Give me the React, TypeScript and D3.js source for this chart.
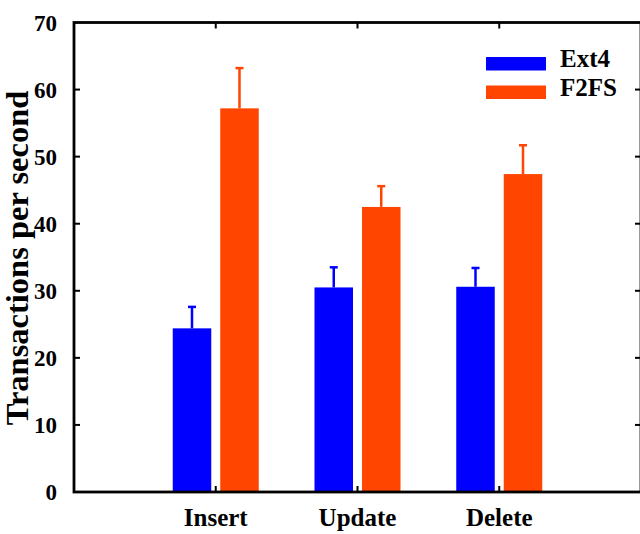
import React from "react"
import {scaleLinear, scaleBand} from "d3"

const categories = ["Insert", "Update", "Delete"]
const series = ["Ext4", "F2FS"]
const ext4Values = [24.4, 30.5, 30.6]
const f2fsValues = [57.2, 42.5, 47.4]
const ext4Errors = [3.2, 3.0, 2.8]
const f2fsErrors = [6.0, 3.1, 4.3]
const yTicks = [0, 10, 20, 30, 40, 50, 60, 70]

const colors = {Ext4: "#0000ff", F2FS: "#ff4500"}

const W = 640
const H = 534
const left = 74
const right = 641
const top = 22.5
const bottom = 492

// serif bold text
const txt = (size: number) => ({fontFamily: "Liberation Serif", fontWeight: "bold", fontSize: size})

function App() {
  const x = scaleLinear().domain([0, categories.length + 1]).range([left, right])
  const y = scaleLinear().domain([0, 70]).range([bottom, top])
  const inner = scaleBand().domain(series).range([-43, 43]).paddingInner(0.1895)

  const values = {Ext4: ext4Values, F2FS: f2fsValues}
  const errors = {Ext4: ext4Errors, F2FS: f2fsErrors}

  return (
    <svg width={W} height={H} style={{position: "fixed", left: 0, top: 0, background: "#fff"}}>
      {/* bars + error bars */}
      {categories.map((cat, i) => {
        const cx = x(i + 1)
        return series.map(s => {
          const v = values[s][i]
          const e = errors[s][i]
          const bx = cx + inner(s)
          const bw = inner.bandwidth()
          const mid = bx + bw / 2
          return (
            <g key={cat + s}>
              <line x1={mid} x2={mid} y1={y(v)} y2={y(v + e)} stroke={colors[s]} strokeWidth={2.5}/>
              <line x1={mid - 4} x2={mid + 4} y1={y(v + e)} y2={y(v + e)} stroke={colors[s]} strokeWidth={2.5}/>
              <rect x={bx} y={y(v)} width={bw} height={y(0) - y(v)} fill={colors[s]}/>
            </g>
          )
        })
      })}

      {/* frame */}
      <rect x={left} y={top} width={right - left} height={bottom - top} fill="none" stroke="#000" strokeWidth={2.8}/>

      {/* y ticks left and right */}
      {yTicks.map(t => (
        <g key={t}>
          {t > 0 && t < 70 && <line x1={left} x2={left + 6} y1={y(t)} y2={y(t)} stroke="#000" strokeWidth={2}/>}
          {t > 0 && t < 70 && <line x1={right - 6} x2={right} y1={y(t)} y2={y(t)} stroke="#000" strokeWidth={2}/>}
          <text x={57} y={y(t)} dy="0.35em" textAnchor="end" style={txt(23)}>{t}</text>
        </g>
      ))}

      {/* x ticks top and bottom */}
      {categories.map((cat, i) => (
        <g key={cat}>
          <line x1={x(i + 1)} x2={x(i + 1)} y1={bottom} y2={bottom - 6} stroke="#000" strokeWidth={2}/>
          <line x1={x(i + 1)} x2={x(i + 1)} y1={top} y2={top + 6} stroke="#000" strokeWidth={2}/>
          <text x={x(i + 1)} y={526} textAnchor="middle" style={txt(25)}>{cat}</text>
        </g>
      ))}

      {/* y label */}
      <text transform={`translate(28,258) rotate(-90)`} textAnchor="middle" style={txt(32.5)}>
        Transactions per second
      </text>

      {/* legend */}
      {series.map((s, i) => (
        <g key={s}>
          <rect x={486} y={57 + i * 28.5} width={60} height={13.5} fill={colors[s]}/>
          <text x={560} y={67 + i * 29} style={txt(25)}>{s}</text>
        </g>
      ))}
    </svg>
  )
}

export default App
